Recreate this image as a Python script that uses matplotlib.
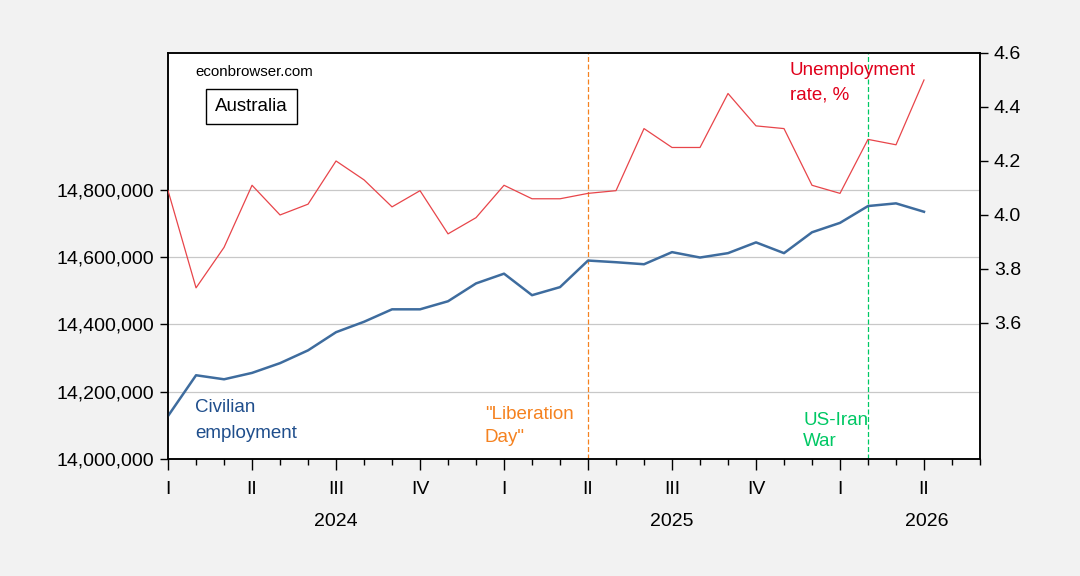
import matplotlib
matplotlib.use("Agg")
import matplotlib.pyplot as plt
import matplotlib.transforms as mtransforms
import numpy as np

plt.rcParams['font.family'] = ['Liberation Sans', 'DejaVu Sans']

# monthly, Jan 2024 .. Apr 2026
employment = [14128000, 14249000, 14237000, 14256000, 14285000, 14323000,
              14377000, 14408000, 14445000, 14445000, 14469000, 14522000,
              14551000, 14487000, 14511000, 14590000, 14585000, 14579000,
              14615000, 14599000, 14612000, 14644000, 14612000, 14674000,
              14702000, 14752000, 14760000, 14735000]
unemp_rate = [4.09, 3.73, 3.88, 4.11, 4.00, 4.04, 4.20, 4.13, 4.03, 4.09,
              3.93, 3.99, 4.11, 4.06, 4.06, 4.08, 4.09, 4.32, 4.25, 4.25,
              4.45, 4.33, 4.32, 4.11, 4.08, 4.28, 4.26, 4.50]

quarter_labels = ['I', 'II', 'III', 'IV', 'I', 'II', 'III', 'IV', 'I', 'II']
year_labels = ['2024', '2025', '2026']
year_pos = [6, 18, 27.1]

left_ticks = [14000000, 14200000, 14400000, 14600000, 14800000]
right_ticks = [3.6, 3.8, 4.0, 4.2, 4.4, 4.6]

# (month index, label, colour, text x, text y in axes fraction, line spacing)
events = [(15, '"Liberation\nDay"', '#F58220', 11.32, 0.081, 1.45),
          (25, 'US-Iran\nWar', '#00C864', 22.68, 0.069, 1.35)]

blue = '#3E6C9E'
red = '#E8454A'

fig = plt.figure(figsize=(10.8, 5.76), dpi=100, facecolor='#F2F2F2')
ax = fig.add_axes([0.1556, 0.2031, 0.7518, 0.7049])
ax.set_facecolor('white')
ax2 = ax.twinx()

x = np.arange(len(employment))
n_months = 29

ax.plot(x, employment, color=blue, lw=1.8, zorder=3)
ax2.plot(x, unemp_rate, color=red, lw=0.9, zorder=3)

ax.set_xlim(0, n_months)
ax.set_ylim(14000000, 15207000)
ax2.set_ylim(3.096, 4.6)

ax.set_yticks(left_ticks)
ax.set_yticklabels([f'{v:,.0f}' for v in left_ticks], fontsize=14)
ax2.set_yticks(right_ticks)
ax2.set_yticklabels([f'{v:.1f}' for v in right_ticks], fontsize=14)
ax.yaxis.grid(True, color='#C8C8C8', lw=0.9)
ax.set_axisbelow(True)

qpos = np.arange(0, 28, 3)
ax.set_xticks(qpos)
ax.set_xticklabels(quarter_labels, fontsize=14)
ax.set_xticks(np.arange(0, n_months + 1), minor=True)
ax.tick_params(axis='x', which='major', length=8, width=1, pad=8, direction='out')
ax.tick_params(axis='x', which='minor', length=4, width=1, direction='out')
ax.tick_params(axis='y', length=6, width=1, pad=4)
ax2.tick_params(axis='y', length=6, width=1, pad=4)

trans = mtransforms.blended_transform_factory(ax.transData, ax.transAxes)
for pos, lab in zip(year_pos, year_labels):
    ax.text(pos, -0.155, lab, transform=trans, ha='center', va='center', fontsize=14)

for xi, lab, col, tx, ty, ls in events:
    ax.axvline(xi, color=col, lw=0.9, ls=(0, (4, 2)), zorder=2)
    ax.text(tx, ty, lab, transform=trans, color=col, fontsize=13.5,
            ha='left', va='center', linespacing=ls)

for spine in ax.spines.values():
    spine.set_linewidth(1.1)
for spine in ax2.spines.values():
    spine.set_linewidth(1.1)

ax.text(0.034, 0.953, 'econbrowser.com', transform=ax.transAxes, fontsize=10.8,
        ha='left', va='center')
ax.text(0.058, 0.868, 'Australia', transform=ax.transAxes, fontsize=13.5,
        ha='left', va='center',
        bbox=dict(boxstyle='square,pad=0.5', fc='white', ec='black', lw=1))
ax.text(0.033, 0.094, 'Civilian\nemployment', transform=ax.transAxes,
        fontsize=13.5, color='#1F4E8C', ha='left', va='center', linespacing=1.7)
ax.text(0.766, 0.926, 'Unemployment\nrate, %', transform=ax.transAxes,
        fontsize=13.5, color='#E0001B', ha='left', va='center', linespacing=1.6)

fig.savefig('out.png', dpi=100, facecolor=fig.get_facecolor())
